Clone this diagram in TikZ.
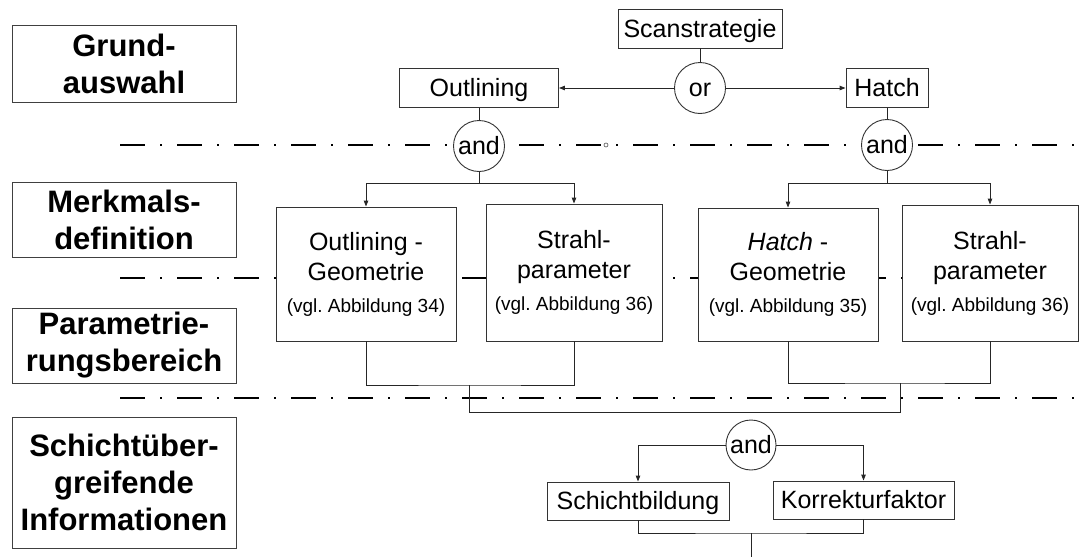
\documentclass[tikz,border=0pt]{standalone}
\usepackage{fontspec}
\setmainfont{Liberation Sans}
\usetikzlibrary{arrows.meta}
\frenchspacing
\begin{document}
\begin{tikzpicture}[x=1pt,y=-1pt,
  sepline/.style={line width=2.6pt, dash pattern=on 25pt off 15pt on 2pt off 15pt},
  labelbox/.style={draw=black!75, line width=0.9pt, fill=white, inner sep=0pt, align=center,
    font=\fontsize{31}{37}\selectfont\bfseries},
  plainbox/.style={draw=black!80, line width=0.9pt, fill=white, inner sep=0pt,
    font=\fontsize{25}{30}\selectfont},
  onerow/.style={plainbox, text height=17pt, text depth=0pt},
  bigbox/.style={plainbox, align=center},
  gate/.style={circle, draw=black!80, line width=0.9pt, fill=white, inner sep=0pt,
    minimum size=51pt, font=\fontsize{25}{30}\selectfont, text height=17pt, text depth=0pt},
  conn/.style={draw=black!85, line width=0.9pt},
  arr/.style={conn, -{Triangle[length=6pt,width=4.5pt]}}
]
\useasboundingbox (0,0) rectangle (1088,557);

% level separators
\draw[sepline] (120,145) -- (1088,145);
\draw[sepline] (120,278) -- (1088,278);
\draw[sepline] (120,398) -- (1088,398);

% level labels
\node[labelbox, minimum width=224pt, minimum height=77pt] (lgrund) at (124,63.5) {Grund-\\auswahl};
\node[labelbox, minimum width=224pt, minimum height=75pt] (lmerk) at (124,219.5) {Merkmals-\\definition};
\node[labelbox, minimum width=224pt, minimum height=75pt] (lpar) at (124,345.5) {Parametrie-\\rungsbereich};
\node[labelbox, minimum width=224pt, minimum height=131pt] (lschicht) at (124,482.5) {Schichtüber-\\greifende\\Informationen};

% top level
\node[onerow, minimum width=164pt, minimum height=39pt] (scan) at (700,28.5) {Scanstrategie};
\node[gate] (or) at (700,88) {or};
\node[onerow, minimum width=159pt, minimum height=39pt] (outl) at (479,88) {Outlining};
\node[onerow, minimum width=82pt, minimum height=39pt] (hatch) at (887,88) {Hatch};
\node[gate] (and1) at (479,146) {and};
\node[gate] (and2) at (887,145) {and};
\node[circle, draw=black!70, line width=0.6pt, fill=white, inner sep=0pt, minimum size=4pt] (ring) at (606,145) {};

% feature boxes
\node[bigbox, minimum width=180pt, minimum height=134pt] (og) at (366,274)
  {Outlining -\\Geometrie\\[2pt]{\fontsize{19}{23}\selectfont (vgl. Abbildung 34)}};
\node[bigbox, minimum width=176pt, minimum height=137pt] (s1) at (574,272.5)
  {Strahl-\\parameter\\[2pt]{\fontsize{19}{23}\selectfont (vgl. Abbildung 36)}};
\node[bigbox, minimum width=180pt, minimum height=133pt] (hg) at (788,274.5)
  {\textit{Hatch} -\\Geometrie\\[2pt]{\fontsize{19}{23}\selectfont (vgl. Abbildung 35)}};
\node[bigbox, minimum width=176pt, minimum height=136pt] (s2) at (990,273)
  {Strahl-\\parameter\\[2pt]{\fontsize{19}{23}\selectfont (vgl. Abbildung 36)}};

% cross-layer level
\node[gate, minimum size=50pt] (and3) at (751,445) {and};
\node[onerow, minimum width=182pt, minimum height=38pt] (sb) at (638,501) {Schichtbildung};
\node[onerow, minimum width=181pt, minimum height=38pt] (kf) at (863.5,500) {Korrekturfaktor};

% junction points
\coordinate (b1) at (479,183);
\coordinate (b2) at (887,183);
\coordinate (j1) at (469,385);
\coordinate (j2) at (900,383);
\coordinate (lowbar) at (900,412);
\coordinate (j3) at (751,533);
\coordinate (tail) at (751,557);

% connectors
\draw[conn] (scan.south) -- (or.north);
\draw[arr] (or.west) -- (outl.east);
\draw[arr] (or.east) -- (hatch.west);
\draw[conn] (outl.south) -- (and1.north);
\draw[conn] (hatch.south) -- (and2.north);
\draw[conn] (and1.south) -- (b1);
\draw[arr] (b1) -| (og.north);
\draw[arr] (b1) -| (s1.north);
\draw[conn] (and2.south) -- (b2);
\draw[arr] (b2) -| (hg.north);
\draw[arr] (b2) -| (s2.north);
\draw[conn] (og.south) |- (j1) -| (s1.south);
\draw[conn] (hg.south) |- (j2) -| (s2.south);
\draw[conn] (j1) |- (lowbar) -- (j2);
\draw[arr] (and3.west) -| (sb.north);
\draw[arr] (and3.east) -| (kf.north);
\draw[conn] (sb.south) |- (j3) -| (kf.south);
\draw[conn] (j3) -- (tail);
\end{tikzpicture}
\end{document}
